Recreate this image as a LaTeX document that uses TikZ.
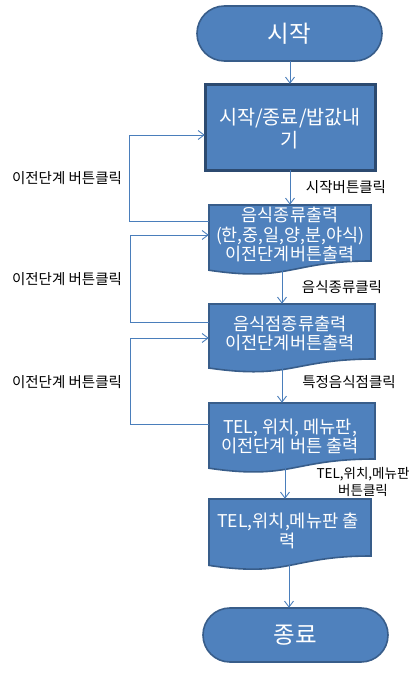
\documentclass[tikz,border=0pt]{standalone}
\usepackage{fontspec}
\setmainfont{Noto Sans CJK KR}
\usetikzlibrary{arrows.meta,calc}
\definecolor{fillblue}{HTML}{4F81BD}
\definecolor{edgeblue}{HTML}{385D8A}
\definecolor{darkedge}{HTML}{2C4A70}
\definecolor{linkblue}{HTML}{4A7EBB}
\tikzset{
  shapefill/.style={fill=fillblue,draw=edgeblue,line width=1.6pt},
  boxtext/.style={text=white,align=center,inner sep=0pt,font=\fontsize{17.6}{19.5}\selectfont},
  conn/.style={draw=linkblue,line width=0.9pt,-{Straight Barb[length=6pt,width=9pt,line width=0.9pt]}},
  lbl/.style={text=black,align=center,inner sep=0pt,font=\fontsize{14.5}{17}\selectfont},
}
\newcommand{\docshape}[4]{% left, right, top, yR
  \pgfmathsetmacro{\hh}{(#4-#3)/0.802}
  \pgfmathsetmacro{\yl}{#3+0.934*\hh}
  \pgfmathsetmacro{\cy}{#3+1.1075*\hh}
  \pgfmathsetmacro{\mx}{(#1+#2)/2}
  \draw[shapefill] (#1,#3) -- (#2,#3) -- (#2,#4)
     .. controls (\mx,#4) and (\mx,\cy) .. (#1,\yl) -- cycle;
}
\begin{document}
\begin{tikzpicture}[x=1pt,y=-1pt]
\useasboundingbox (0,0) rectangle (418,675);
% start
\draw[shapefill,rounded corners=27.4pt] (197,6) rectangle (382,61);
\node[minimum width=185pt,minimum height=55pt,inner sep=0pt] (startbox) at (289.5,33.5) {};
\node[text=white,inner sep=0pt,font=\fontsize{23.5}{26}\selectfont] (start) at (289.5,34) {시작};
% box1
\draw[fill=fillblue,draw=darkedge,line width=3pt] (205,84) rectangle (375,170);
\node[minimum width=170pt,minimum height=86pt,inner sep=0pt] (b1) at (290,127) {};
\node[boxtext,font=\fontsize{19.6}{23}\selectfont] (b1t) at (290,128.5) {시작/종료/밥값내\\기};
% box2
\docshape{209}{371}{205}{261}
\node[minimum width=162pt,minimum height=65pt,inner sep=0pt] (b2) at (290,237.5) {};
\node[boxtext,font=\fontsize{17.4}{19.5}\selectfont] (b2t) at (290,234.5) {음식종류출력\\(한,중,일,양,분,야식)\\이전단계버튼출력};
% box3
\docshape{209}{375}{304}{359}
\node[minimum width=166pt,minimum height=64pt,inner sep=0pt] (b3) at (292,336) {};
\node[boxtext] (b3t) at (290,333.5) {음식점종류출력\\이전단계버튼출력};
% box4
\docshape{209}{375}{403}{459}
\node[minimum width=166pt,minimum height=64pt,inner sep=0pt] (b4) at (292,435) {};
\node[boxtext] (b4t) at (290,436.5) {TEL, 위치, 메뉴판,\\이전단계 버튼 출력};
% box5
\docshape{209}{371}{499}{556}
\node[minimum width=162pt,minimum height=66pt,inner sep=0pt] (b5) at (290,532) {};
\node[boxtext] (b5t) at (288,531) {TEL,위치,메뉴판 출\\력};
% end
\draw[shapefill,rounded corners=26.9pt] (203,608) rectangle (388,662);
\node[minimum width=185pt,minimum height=54pt,inner sep=0pt] (endbox) at (295.5,635) {};
\node[text=white,inner sep=0pt,font=\fontsize{23.5}{26}\selectfont] (endt) at (295.5,635.5) {종료};
% straight connectors
\draw[conn] (startbox.south -| 290,0) -- (b1.north -| 290,0);
\draw[conn] (b1.south -| 290,0) -- (b2.north -| 290,0);
\draw[conn] ($(b2.north)+(-8,65)$) -- (b3.north -| 282,0);
\draw[conn] ($(b3.north)+(-10,63)$) -- (b4.north -| 282,0);
\draw[conn] ($(b4.north)+(-7,64)$) -- (b5.north -| 285,0);
\draw[conn] ($(b5.north)+(-1,66)$) -- (endbox.north -| 289,0);
% loops
\draw[conn] (b2.west |- 0,221) -- (129,221) -- (129,135) -- (b1.west |- 0,135);
\draw[conn] (b3.west |- 0,322) -- (130,322) -- (130,235) -- (b2.west |- 0,235);
\draw[conn] (b4.west |- 0,424) -- (130,424) -- (130,338) -- (b3.west |- 0,338);
% labels
\node[lbl] (l1) at (346,187) {시작버튼클릭};
\node[lbl] (l2) at (342,287) {음식종류클릭};
\node[lbl] (l3) at (349,382) {특정음식점클릭};
\node[lbl,font=\fontsize{13.5}{17}\selectfont] (l4) at (363,481.5) {TEL,위치,메뉴판\\버튼클릭};
\node[lbl] (l5) at (67,178) {이전단계 버튼클릭};
\node[lbl] (l6) at (67,279) {이전단계 버튼클릭};
\node[lbl] (l7) at (67,382) {이전단계 버튼클릭};
\end{tikzpicture}
\end{document}
